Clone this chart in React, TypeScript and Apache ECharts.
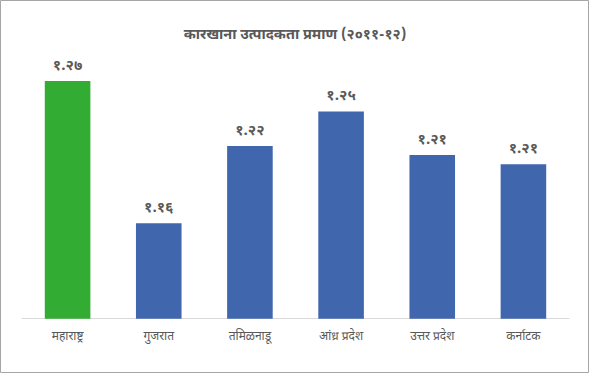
import React, { useEffect, useRef } from "react";
import * as echarts from "echarts";

const titleText = "कारखाना उत्पादकता प्रमाण (२०११-१२)";
const categories = ["महाराष्ट्र", "गुजरात", "तमिळनाडू", "आंध्र प्रदेश", "उत्तर प्रदेश", "कर्नाटक"];
const values = [1.2703, 1.1609, 1.2203, 1.247, 1.2134, 1.2063];
const highlightIndex = 0;
const yMin = 1.0875;
const yMax = 1.3;

const devDigits = ["०", "१", "२", "३", "४", "५", "६", "७", "८", "९"];
const toDev = (s: string) => s.replace(/[0-9]/g, (d) => devDigits[Number(d)]);

const FONT = "'Noto Sans Devanagari', 'Noto Sans', 'DejaVu Sans', sans-serif";

export default function App() {
  const ref = useRef<HTMLDivElement>(null);
  useEffect(() => {
    document.body.style.margin = "0";
    const chart = echarts.init(ref.current!, null, { renderer: "svg" });
    chart.setOption({
      animation: false,
      backgroundColor: "#ffffff",
      title: {
        text: titleText,
        left: "center",
        top: 23,
        textStyle: { fontFamily: FONT, fontSize: 14.5, fontWeight: "bold", color: "#595959" },
      },
      graphic: [
        {
          type: "rect",
          shape: { x: 0.5, y: 0.5, width: 588, height: 372 },
          style: { fill: "none", stroke: "#a6a6a6", lineWidth: 1 },
          silent: true,
        },
      ],
      grid: { left: 22, right: 21, top: 42.5, bottom: 55.3 },
      xAxis: {
        type: "category",
        data: categories,
        axisLine: { lineStyle: { color: "#d9d9d9", width: 1 } },
        axisTick: { show: false },
        axisLabel: { fontFamily: FONT, fontSize: 12, color: "#595959", margin: 12 },
      },
      yAxis: {
        type: "value",
        min: yMin,
        max: yMax,
        show: false,
        splitLine: { show: false },
      },
      series: [
        {
          type: "bar",
          barWidth: "50%",
          data: values.map((v, i) => ({
            value: v,
            itemStyle: { color: i === highlightIndex ? "#33ac33" : "#4066ae" },
          })),
          label: {
            show: true,
            position: "top",
            distance: 7,
            fontFamily: FONT,
            fontSize: 15,
            fontWeight: "bold",
            color: "#595959",
            formatter: (p: any) => toDev(Number(p.value).toFixed(2)),
          },
        },
      ],
    });
    return () => chart.dispose();
  }, []);
  return <div ref={ref} style={{ position: "absolute", left: 0, top: 0, width: 590, height: 374 }} />;
}
